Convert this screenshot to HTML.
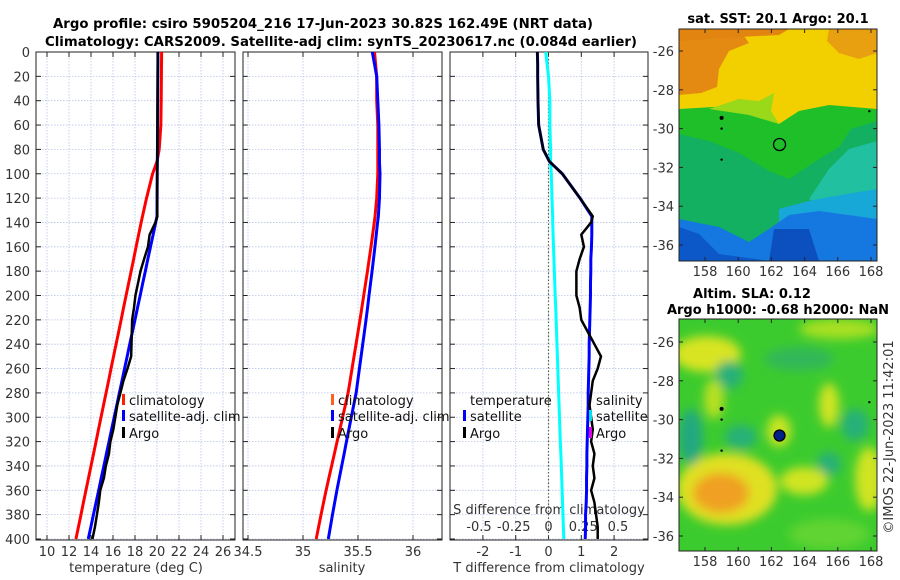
<!DOCTYPE html>
<html><head><meta charset="utf-8"><title>Argo profile</title>
<style>
html,body{margin:0;padding:0;background:#fff;}
svg{display:block;font-family:"DejaVu Sans","Liberation Sans",sans-serif;}
.tl{font-size:13px;fill:#333;}
.tt{font-size:13px;font-weight:bold;fill:#000;}
.lg{font-size:13px;fill:#111;}
</style></head>
<body>
<svg id="fig" width="900" height="580" viewBox="0 0 900 580" xmlns="http://www.w3.org/2000/svg">
<defs>
<clipPath id="c1"><rect x="36" y="52" width="199" height="488"/></clipPath>
<clipPath id="c2"><rect x="243" y="52" width="199" height="488"/></clipPath>
<clipPath id="c3"><rect x="450" y="52" width="198" height="488"/></clipPath>
<clipPath id="cm1"><rect x="0" y="0" width="198" height="232"/></clipPath>
<clipPath id="cm2"><rect x="0" y="0" width="198" height="232"/></clipPath>
<filter id="bl" x="-20%" y="-20%" width="140%" height="140%"><feGaussianBlur stdDeviation="5"/></filter>
</defs>
<text class="tt" x="323" y="28" text-anchor="middle" textLength="540" lengthAdjust="spacingAndGlyphs">Argo profile: csiro 5905204_216 17-Jun-2023 30.82S 162.49E (NRT data)</text>
<text class="tt" x="341" y="46" text-anchor="middle" textLength="592" lengthAdjust="spacingAndGlyphs">Climatology: CARS2009. Satellite-adj clim: synTS_20230617.nc (0.084d earlier)</text>
<g id="panels"></g>

<!-- SST map -->
<g transform="translate(679,29)">
<g clip-path="url(#cm1)">
<rect width="198" height="232" fill="#1fbf2a"/>
<polygon fill="#f2d000" points="0,0 198,0 198,80 150,76 120,82 100,95 80,80 55,77 35,78 0,80"/>
<polygon fill="#e48a12" points="0,0 60,0 70,14 50,22 40,40 38,58 22,64 0,66"/>
<polygon fill="#e28410" points="0,0 110,0 100,6 60,8 30,10 0,12"/>
<polygon fill="#e8a010" points="150,0 198,0 198,24 180,30 160,24 148,12"/>
<polygon fill="#9ad81a" points="30,80 60,70 80,72 95,64 92,82 100,95 70,86"/>
<polygon fill="#12b060" points="0,105 30,112 60,124 90,142 110,150 125,140 140,130 160,118 172,100 198,92 198,232 0,232"/>
<polygon fill="#20c0a0" points="150,140 170,120 198,112 198,180 150,180 130,170"/>
<polygon fill="#18a8d8" points="100,180 130,172 150,168 198,160 198,232 100,232"/>
<polygon fill="#1478e0" points="0,190 40,198 70,213 90,200 110,186 140,182 198,190 198,232 0,232"/>
<polygon fill="#0c58c8" points="0,198 20,205 40,225 90,232 0,232"/>
<polygon fill="#0c50c0" points="95,200 130,200 140,232 90,232"/>
</g>
<rect width="198" height="232" fill="none" stroke="#222" stroke-width="1"/>
</g>

<!-- SLA map -->
<g transform="translate(679,319)">
<g clip-path="url(#cm2)">
<rect width="198" height="232" fill="#3ccb2e"/>
<g filter="url(#bl)">
<ellipse cx="28" cy="35" rx="34" ry="18" fill="#d8e420"/>
<ellipse cx="48" cy="170" rx="50" ry="36" fill="#e0e020"/>
<ellipse cx="42" cy="174" rx="28" ry="20" fill="#f0a020"/>
<ellipse cx="12" cy="118" rx="12" ry="28" fill="#20a880"/>
<ellipse cx="50" cy="56" rx="14" ry="14" fill="#28b078"/>
<ellipse cx="62" cy="118" rx="16" ry="12" fill="#28b078"/>
<ellipse cx="176" cy="106" rx="14" ry="16" fill="#28b078"/>
<ellipse cx="150" cy="145" rx="12" ry="12" fill="#28b078"/>
<ellipse cx="120" cy="40" rx="35" ry="12" fill="#30b858"/>
<ellipse cx="100" cy="112" rx="12" ry="16" fill="#c8e420"/>
<ellipse cx="150" cy="86" rx="10" ry="22" fill="#d0e420"/>
<ellipse cx="125" cy="162" rx="24" ry="14" fill="#d0e420"/>
<ellipse cx="190" cy="160" rx="14" ry="32" fill="#d0e420"/>
<ellipse cx="160" cy="10" rx="40" ry="10" fill="#a8e020"/>
<ellipse cx="35" cy="80" rx="10" ry="20" fill="#b8e020"/>
<ellipse cx="150" cy="215" rx="40" ry="15" fill="#60d430"/>
</g>
</g>
<rect width="198" height="232" fill="none" stroke="#222" stroke-width="1"/>
</g>
<text class="tt" x="778" y="23" text-anchor="middle">sat. SST: 20.1 Argo: 20.1</text>
<text class="tt" x="752" y="298" text-anchor="middle">Altim. SLA: 0.12</text>
<text class="tt" x="778" y="314" text-anchor="middle">Argo h1000: -0.68 h2000: NaN</text>
<text class="tl" transform="translate(893,437) rotate(-90)" text-anchor="middle">©IMOS 22-Jun-2023 11:42:01</text>
<g id="maps"></g>
</svg>
<script>
// ---- profile data ----
const depths = [0,10,20,40,60,80,90,100,120,135,140,150,160,170,180,190,200,210,220,230,240,250,260,270,280,290,300,310,320,330,340,350,360,370,380,390,400];
const tClim = [20.42,20.41,20.40,20.38,20.35,20.20,20.00,19.60,19.05,18.68,18.56,18.33,18.10,17.88,17.65,17.42,17.19,16.96,16.74,16.51,16.28,16.05,15.82,15.60,15.37,15.14,14.91,14.68,14.46,14.23,14.00,13.77,13.54,13.31,13.09,12.86,12.63];
const tSat = [20.08,20.08,20.07,20.06,20.05,20.04,20.03,20.02,20.01,20.00,19.88,19.65,19.41,19.17,18.94,18.70,18.47,18.23,18.00,17.76,17.52,17.29,17.05,16.82,16.58,16.35,16.11,15.87,15.64,15.40,15.17,14.93,14.70,14.46,14.22,13.99,13.75];
const tArgo = [20.08,20.08,20.07,20.06,20.05,20.04,20.03,20.02,20.01,20.03,19.86,19.33,19.18,18.83,18.50,18.27,18.04,17.91,17.74,17.71,17.68,17.65,17.32,16.95,16.67,16.39,16.21,16.03,15.76,15.63,15.35,15.17,14.84,14.71,14.54,14.36,14.13];
const sClim = [35.65,35.66,35.67,35.67,35.68,35.68,35.68,35.68,35.67,35.655,35.648,35.633,35.618,35.602,35.586,35.569,35.552,35.535,35.518,35.50,35.482,35.464,35.446,35.428,35.41,35.385,35.36,35.335,35.31,35.285,35.26,35.235,35.21,35.187,35.164,35.142,35.12];
const sSat = [35.63,35.65,35.67,35.68,35.69,35.695,35.695,35.70,35.695,35.685,35.678,35.666,35.654,35.641,35.628,35.614,35.600,35.587,35.573,35.558,35.543,35.528,35.513,35.498,35.483,35.461,35.439,35.417,35.395,35.374,35.352,35.330,35.308,35.288,35.268,35.249,35.230];
const depthTicks = [0,20,40,60,80,100,120,140,160,180,200,220,240,260,280,300,320,340,360,380,400];
const tTicks = [10,12,14,16,18,20,22,24,26];
const sTicks = [34.5,35,35.5,36];
const sTickLabels = ["34.5","35","35.5","36"];
const tdTicks = [-2,-1,0,1,2];
const sdTicks = [-0.5,-0.25,0,0.25,0.5];
const sdTickLabels = ["-0.5","-0.25","0","0.25","0.5"];
// ---- map data ----
const lonTicks = [158,160,162,164,166,168];
const latTicks = [-26,-28,-30,-32,-34,-36];
const floatLon = [162.49];
const floatLat = [-30.82];
const otherLon = [159.0,159.0,159.0,167.9];
const otherLat = [-29.45,-30.0,-31.6,-29.1];

const NS="http://www.w3.org/2000/svg";
function mk(tag,attrs,parent){const e=document.createElementNS(NS,tag);for(const k in attrs)e.setAttribute(k,attrs[k]);parent.appendChild(e);return e;}
const yD=d=>52+d*1.2175;
const xT=t=>47+(t-10)*11;
const xS=s=>303+(s-35)*110;
const xTd=v=>548.5+v*32.8;
const xSd=v=>548.5+v*139;
const P=document.getElementById('panels');
const panels=[[36,235,'temperature-panel'],[243,442,'salinity-panel'],[450,648,'difference-panel']];
const gridX=[tTicks.map(xT),sTicks.map(xS),tdTicks.map(xTd)];
panels.forEach((p,i)=>{
  const g=mk('g',{},P);
  
  
  depthTicks.forEach(d=>{
    const l=mk('line',{x1:p[0],x2:p[1],y1:yD(d),y2:yD(d),stroke:'#b8c4e8','stroke-width':0.8,'stroke-dasharray':'1.5,1.5'},g);
    
    
    mk('line',{x1:p[0],x2:p[0]+5,y1:yD(d),y2:yD(d),stroke:'#222'},g);
    mk('line',{x1:p[1]-5,x2:p[1],y1:yD(d),y2:yD(d),stroke:'#222'},g);
  });
  gridX[i].forEach(x=>{
    const l=mk('line',{x1:x,x2:x,y1:52,y2:540,stroke:'#b8c4e8','stroke-width':0.8,'stroke-dasharray':'1.5,1.5'},g);
    
    
    mk('line',{x1:x,x2:x,y1:540,y2:535,stroke:'#222'},g);
    mk('line',{x1:x,x2:x,y1:52,y2:57,stroke:'#222'},g);
  });
  const f=mk('rect',{x:p[0],y:52,width:p[1]-p[0],height:488,fill:'none',stroke:'#222','stroke-width':1},g);
  
  
});
depthTicks.forEach(d=>{
  const t=mk('text',{x:30,y:yD(d)+5,'text-anchor':'end',class:'tl'},P);
  
  
  t.textContent=d;
});
function xl(x,txt,y){const t=mk('text',{x:x,y:y,'text-anchor':'middle',class:'tl'},P);
  
  
  t.textContent=txt;}
tTicks.forEach(v=>xl(xT(v),v,556));
sTicks.forEach((v,i)=>xl(xS(v),sTickLabels[i],556));
tdTicks.forEach(v=>xl(xTd(v),v,556));
sdTicks.forEach((v,i)=>xl(xSd(v),sdTickLabels[i],531));
function at(x,y,txt,name){const t=mk('text',{x:x,y:y,'text-anchor':'middle',class:'tl'},P);
  
  
  t.textContent=txt;}
at(136,572,'temperature (deg C)','x-axis-title-temperature');
at(342,572,'salinity','x-axis-title-salinity');
at(549,572,'T difference from climatology','x-axis-title-t-difference');
at(549,514,'S difference from climatology','s-difference-axis-title');
const z=mk('line',{x1:xTd(0),x2:xTd(0),y1:52,y2:540,stroke:'#556644','stroke-width':1.2,'stroke-dasharray':'1.5,2'},P);


function series(xs,xf,color,w,clip,name){
  const pts=depths.map((d,i)=>xf(xs[i]).toFixed(2)+','+yD(d).toFixed(2)).join(' ');
  const l=mk('polyline',{points:pts,fill:'none',stroke:color,'stroke-width':w,'stroke-linejoin':'round','clip-path':'url(#'+clip+')'},P);
  
  
}
series(tClim,xT,'#ff0000',3,'c1','temperature-climatology-line');
series(tSat,xT,'#0000ff',3,'c1','temperature-satellite-line');
series(tArgo,xT,'#000000',2.5,'c1','temperature-argo-line');
series(sClim,xS,'#ff0000',3,'c2','salinity-climatology-line');
series(sSat,xS,'#0000ff',3,'c2','salinity-satellite-line');
const sDiff=sSat.map((v,i)=>v-sClim[i]);
const tDiffSat=tSat.map((v,i)=>v-tClim[i]);
const tDiffArgo=tArgo.map((v,i)=>v-tClim[i]);
series(sDiff,xSd,'#00ffff',3,'c3','salinity-difference-satellite-line');
series(tDiffSat,xTd,'#0000ff',3,'c3','temperature-difference-satellite-line');
series(tDiffArgo,xTd,'#000000',2.5,'c3','temperature-difference-argo-line');
function lg(x,y,color,txt,name){
  const g=mk('g',{},P);
  
  
  if(color) mk('rect',{x:x-7,y:y-11,width:3,height:11,fill:color},g);
  const t=mk('text',{x:x,y:y,class:'lg'},g); t.textContent=txt;
}
lg(129,405,'#ff2000','climatology','legend-entry-climatology');
lg(129,421,'#0000ff','satellite-adj. clim','legend-entry-satellite');
lg(129,438,'#000','Argo','legend-entry-argo');
lg(338,405,'#ff6020','climatology','legend-entry-climatology-salinity');
lg(338,421,'#0000ff','satellite-adj. clim','legend-entry-satellite-salinity');
lg(338,438,'#000','Argo','legend-entry-argo-salinity');
lg(470,405,null,'temperature','legend-header-temperature');
lg(470,421,'#0000ff','satellite','legend-entry-t-satellite');
lg(470,438,'#000','Argo','legend-entry-t-argo');
lg(596,405,null,'salinity','legend-header-salinity');
lg(596,421,'#00e0e0','satellite','legend-entry-s-satellite');
lg(596,438,'#e000e0','Argo','legend-entry-s-argo');
// maps
const M=document.getElementById('maps');
const maps=[{x0:679,y0:29,latTop:51,name:'sst'},{x0:679,y0:319,latTop:342,name:'sla'}];
maps.forEach((m,mi)=>{
  const lx=lon=>705+(lon-158)*16.6;
  const ly=lat=>m.latTop+(-26-lat)*19.4;
  const yb=m.y0+232;
  lonTicks.forEach(v=>{
    mk('line',{x1:lx(v),x2:lx(v),y1:yb,y2:yb-4,stroke:'#222'},M);
    mk('line',{x1:lx(v),x2:lx(v),y1:m.y0,y2:m.y0+4,stroke:'#222'},M);
    const t=mk('text',{x:lx(v),y:yb+15,'text-anchor':'middle',class:'tl'},M);
    
    
    t.textContent=v;
  });
  latTicks.forEach(v=>{
    mk('line',{x1:877,x2:873,y1:ly(v),y2:ly(v),stroke:'#222'},M);
    mk('line',{x1:679,x2:683,y1:ly(v),y2:ly(v),stroke:'#222'},M);
    const t=mk('text',{x:674,y:ly(v)+5,'text-anchor':'end',class:'tl'},M);
    
    
    t.textContent=v;
  });
  otherLon.forEach((v,i)=>{
    const c=mk('circle',{cx:lx(v),cy:ly(otherLat[i]),r:i===0?2:1.2,fill:'#000'},M);
    
    
  });
  floatLon.forEach((v,i)=>{
    const c=mk('circle',{cx:lx(v),cy:ly(floatLat[i]),r:mi===0?6:5.5,fill:mi===0?'none':'#00208a',stroke:'#000','stroke-width':1.3},M);
    
    
  });
});
</script>
</body></html>
